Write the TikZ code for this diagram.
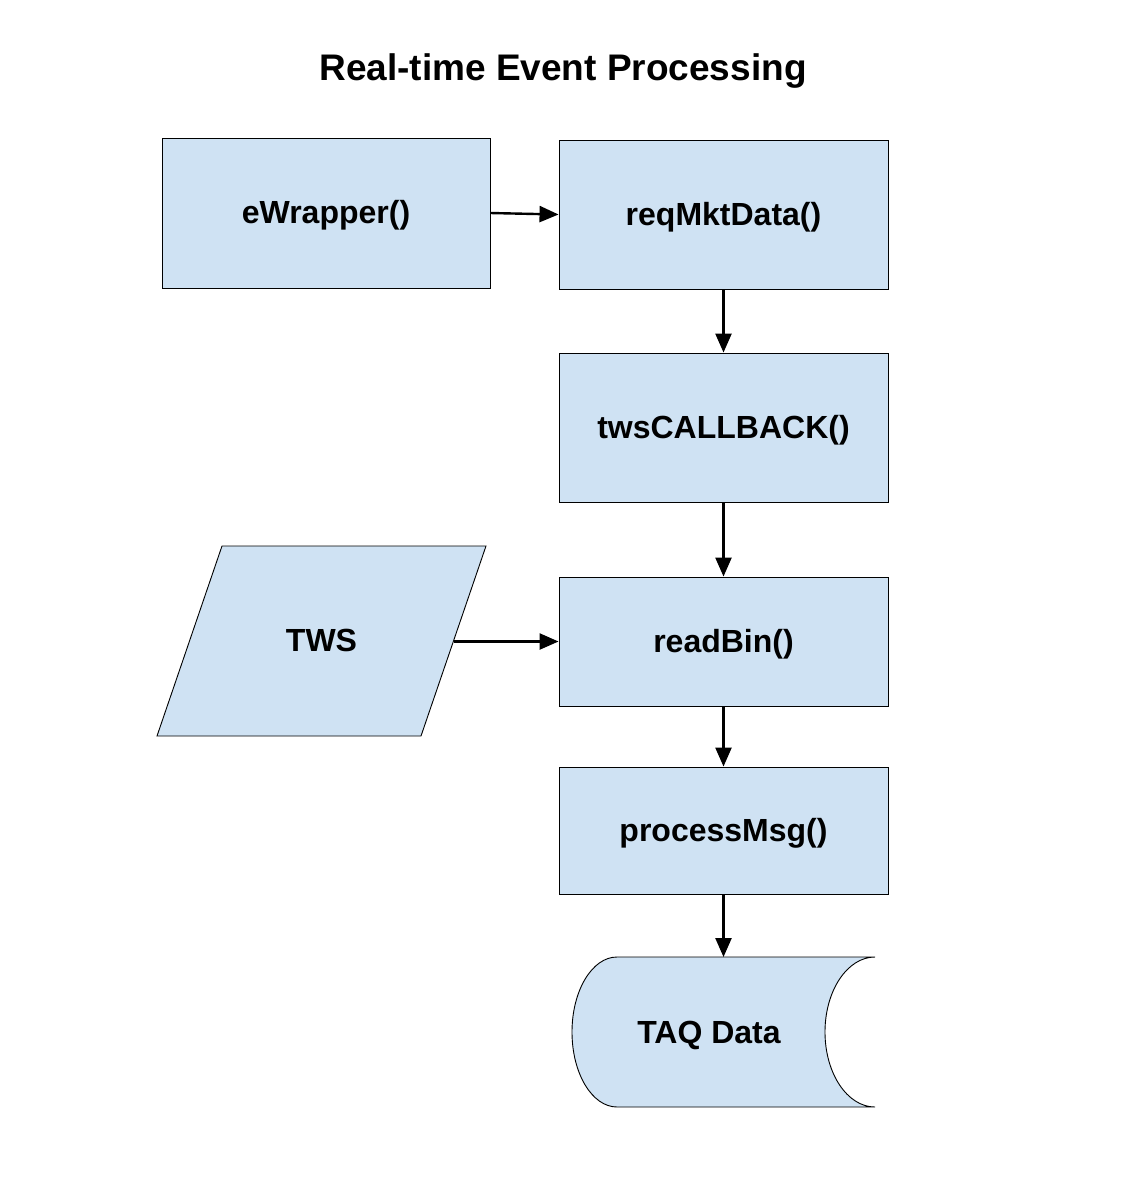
\documentclass[tikz,border=0pt]{standalone}
\usepackage{fontspec}
\setmainfont{Liberation Sans}
\usetikzlibrary{arrows.meta}
\definecolor{boxfill}{HTML}{CFE2F3}
\begin{document}
\begin{tikzpicture}[x=1pt,y=1pt,
  procbox/.style={draw=black,line width=0.9pt,fill=boxfill,rectangle,inner sep=0pt,
    minimum width=329pt,font=\fontsize{32}{36}\selectfont\bfseries,text depth=0pt,text height=21pt},
  lbl/.style={inner sep=0pt,font=\fontsize{32}{36}\selectfont\bfseries,text depth=0pt,text height=21pt},
  flow/.style={line width=2.4pt,-{Triangle[length=19pt,width=16pt]}}]
\useasboundingbox (0,0) rectangle (1123,-1179);
\node[inner sep=0pt,font=\fontsize{37}{42}\selectfont\bfseries] (title) at (563,-71) {Real-time Event Processing};
\node[procbox,minimum width=328pt,minimum height=150pt] (ew) at (326,-213) {eWrapper()};
\node[procbox,minimum height=149pt] (req) at (723.5,-214.5) {reqMktData()};
\node[procbox,minimum height=149pt] (cb) at (723.5,-427.5) {twsCALLBACK()};
\node[procbox,minimum height=129pt] (rb) at (723.5,-641.5) {readBin()};
\node[procbox,minimum height=127pt] (pm) at (723.5,-830.5) {processMsg()};
% TWS parallelogram
\draw[line width=0.9pt,fill=boxfill] (222,-546) -- (486,-546) -- (421,-736) -- (157,-736) -- cycle;
\node[lbl] (tws) at (321.5,-641) {TWS};
\coordinate (twsE) at (453.5,-641.5);
% TAQ stored data
\draw[line width=0.9pt,fill=boxfill] (617,-957) -- (875,-957)
  arc[start angle=90,end angle=270,x radius=50,y radius=75]
  -- (617,-1107)
  arc[start angle=270,end angle=90,x radius=45,y radius=75] -- cycle;
\node[lbl] (taq) at (709,-1033) {TAQ Data};
\coordinate (taqN) at (723.5,-957);
% connectors
\draw[flow] (ew.east) -- (req.west);
\draw[flow] (req.south) -- (cb.north);
\draw[flow] (cb.south) -- (rb.north);
\draw[flow] (twsE) -- (rb.west);
\draw[flow] (rb.south) -- (pm.north);
\draw[flow] (pm.south) -- (taqN);
\end{tikzpicture}
\end{document}
